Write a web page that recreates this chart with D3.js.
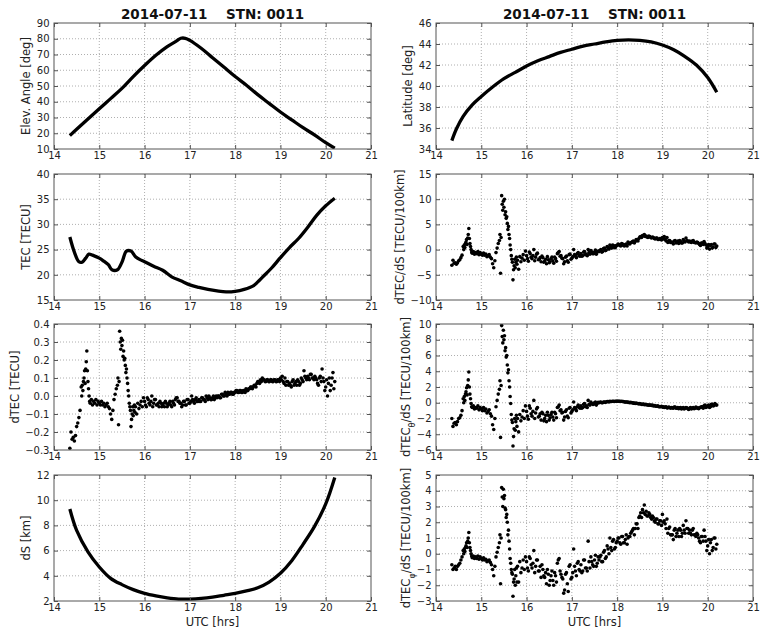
<!DOCTYPE html>
<html>
<head>
<meta charset="utf-8">
<script src="https://cdn.jsdelivr.net/npm/d3@7"></script>
<style>
  body { margin: 0; background: #fff; }
  svg { display: block; font-family: "DejaVu Sans", sans-serif; }
  .tick-label { font-size: 10px; fill: #222; }
  .axis-label { font-size: 11.5px; fill: #222; }
  .title { font-size: 13.5px; font-weight: bold; fill: #111; }
</style>
</head>
<body>
<svg id="chart" width="764" height="633"></svg>
<script>
// Header
const titleText = '2014-07-11    STN: 0011';
const xTicks = [14, 15, 16, 17, 18, 19, 20, 21];

// Smooth curves (UTC hours -> value)
const elevTimes = [14.35, 14.5, 14.75, 15, 15.25, 15.5, 15.75, 16, 16.25, 16.5, 16.7, 16.8, 16.9, 17, 17.25, 17.5, 17.75, 18, 18.25, 18.5, 18.75, 19, 19.25, 19.5, 19.75, 20, 20.2];
const elevValues = [18.5, 22.5, 29, 35.5, 42, 48.5, 56, 63, 69.5, 75, 78.5, 80.3, 80.3, 79, 74, 68, 62, 56, 50.5, 44.5, 39, 33.5, 28.5, 23.5, 19, 14, 10.5];

const latTimes = [14.35, 14.45, 14.6, 14.8, 15, 15.25, 15.5, 15.75, 16, 16.25, 16.5, 16.75, 17, 17.25, 17.5, 17.75, 18, 18.25, 18.5, 18.75, 19, 19.25, 19.5, 19.75, 20, 20.2];
const latValues = [34.8, 35.9, 37.1, 38.2, 39.0, 39.9, 40.7, 41.3, 41.9, 42.4, 42.8, 43.2, 43.5, 43.8, 44.0, 44.2, 44.35, 44.4, 44.35, 44.2, 43.9, 43.45, 42.8, 42.0, 40.8, 39.4];

const tecTimes = [14.35, 14.45, 14.55, 14.62, 14.7, 14.77, 14.85, 15, 15.1, 15.2, 15.28, 15.4, 15.5, 15.6, 15.7, 15.8, 15.9, 16, 16.2, 16.4, 16.6, 16.8, 17, 17.2, 17.4, 17.6, 17.8, 18, 18.2, 18.4, 18.5, 18.6, 18.8, 19, 19.2, 19.4, 19.6, 19.8, 20, 20.2];
const tecValues = [27.5, 24.5, 22.6, 22.5, 23.3, 24.1, 23.9, 23.3, 22.7, 22.0, 21.0, 21.0, 22.5, 24.7, 24.7, 23.6, 23.0, 22.6, 21.7, 20.9, 19.6, 18.8, 18.0, 17.5, 17.1, 16.8, 16.6, 16.7, 17.1, 17.8, 18.6, 19.5, 21.3, 23.4, 25.4, 27.2, 29.4, 31.8, 33.7, 35.2];

const dsTimes = [14.35, 14.5, 14.75, 15, 15.25, 15.5, 15.75, 16, 16.25, 16.5, 16.75, 17, 17.25, 17.5, 17.75, 18, 18.25, 18.5, 18.75, 19, 19.25, 19.5, 19.75, 20, 20.2];
const dsValues = [9.3, 7.6, 5.9, 4.7, 3.8, 3.3, 2.9, 2.6, 2.4, 2.25, 2.15, 2.15, 2.2, 2.3, 2.45, 2.6, 2.8, 3.05, 3.5, 4.2, 5.2, 6.5, 7.9, 9.7, 11.8];

// Scatter samples (shared epochs): first pass, then the in-between epochs after 16 h
const scatterTimes = [
  14.35, 14.375, 14.4, 14.425, 14.45, 14.475, 14.5, 14.525, 14.55, 14.575,
  14.6, 14.6125, 14.625, 14.6375, 14.65, 14.6625, 14.675, 14.6875, 14.7, 14.7125, 14.725, 14.7375, 14.75, 14.7625, 14.775, 14.7875,
  14.8, 14.825, 14.85, 14.875, 14.9, 14.925, 14.95, 14.975, 15, 15.025, 15.05, 15.075,
  15.1, 15.125, 15.15, 15.175, 15.2, 15.225, 15.25, 15.275, 15.3, 15.325, 15.35, 15.375,
  15.4, 15.4125, 15.425, 15.4375, 15.45, 15.4625, 15.475, 15.4875, 15.5, 15.5125, 15.525, 15.5375, 15.55, 15.5625, 15.575, 15.5875,
  15.6, 15.6125, 15.625, 15.6375, 15.65, 15.6625, 15.675, 15.6875, 15.7, 15.7125, 15.725, 15.7375, 15.75, 15.7625, 15.775, 15.7875,
  15.8, 15.825, 15.85, 15.875, 15.9, 15.925, 15.95, 15.975,
  16.00, 16.04, 16.08, 16.12, 16.16, 16.20, 16.24, 16.28, 16.32, 16.36,
  16.40, 16.44, 16.48, 16.52, 16.56, 16.60, 16.64, 16.68, 16.72, 16.76,
  16.80, 16.84, 16.88, 16.92, 16.96, 17.00, 17.04, 17.08, 17.12, 17.16,
  17.20, 17.24, 17.28, 17.32, 17.36, 17.40, 17.44, 17.48, 17.52, 17.56,
  17.60, 17.64, 17.68, 17.72, 17.76, 17.80, 17.84, 17.88, 17.92, 17.96,
  18.00, 18.04, 18.08, 18.12, 18.16, 18.20, 18.24, 18.28, 18.32, 18.36,
  18.40, 18.44, 18.48, 18.52, 18.56, 18.60, 18.64, 18.68, 18.72, 18.76,
  18.80, 18.84, 18.88, 18.92, 18.96, 19.00, 19.04, 19.08, 19.12, 19.16,
  19.20, 19.24, 19.28, 19.32, 19.36, 19.40, 19.44, 19.48, 19.52, 19.56,
  19.60, 19.64, 19.68, 19.72, 19.76, 19.80, 19.84, 19.88, 19.92, 19.96,
  20.00, 20.04, 20.08, 20.12, 20.16, 20.20,
  16.02, 16.06, 16.10, 16.14, 16.18, 16.22, 16.26, 16.30, 16.34, 16.38,
  16.42, 16.46, 16.50, 16.54, 16.58, 16.62, 16.66, 16.70, 16.74, 16.78,
  16.82, 16.86, 16.90, 16.94, 16.98, 17.02, 17.06, 17.10, 17.14, 17.18,
  17.22, 17.26, 17.30, 17.34, 17.38, 17.42, 17.46, 17.50, 17.54, 17.58,
  17.62, 17.66, 17.70, 17.74, 17.78, 17.82, 17.86, 17.90, 17.94, 17.98,
  18.02, 18.06, 18.10, 18.14, 18.18, 18.22, 18.26, 18.30, 18.34, 18.38,
  18.42, 18.46, 18.50, 18.54, 18.58, 18.62, 18.66, 18.70, 18.74, 18.78,
  18.82, 18.86, 18.90, 18.94, 18.98, 19.02, 19.06, 19.10, 19.14, 19.18,
  19.22, 19.26, 19.30, 19.34, 19.38, 19.42, 19.46, 19.50, 19.54, 19.58,
  19.62, 19.66, 19.70, 19.74, 19.78, 19.82, 19.86, 19.90, 19.94, 19.98,
  20.02, 20.06, 20.10, 20.14, 20.18
];

const dtecValues = [
  -0.29, -0.20, -0.24, -0.23, -0.25, -0.22, -0.17, -0.15, -0.12, -0.08,
  0.05, 0.0, 0.06, 0.03, 0.08, 0.1, 0.14, 0.07, 0.15, 0.19, 0.25, 0.14, 0.08, 0.04, 0.0, -0.03,
  -0.04, -0.02, -0.05, -0.03, -0.04, -0.02, -0.05, -0.03, -0.04, -0.05, -0.03, -0.05,
  -0.04, -0.06, -0.05, -0.04, -0.06, -0.07, -0.10, -0.13, -0.08, -0.02, 0.01, 0.04,
  0.06, 0.1, -0.16, 0.08, 0.36, 0.3, 0.26, 0.32, 0.28, 0.31, 0.22, 0.25, 0.2, 0.21, 0.17, 0.13,
  0.15, 0.1, 0.07, 0.03, 0.0, -0.04, -0.06, -0.08, -0.17, -0.13, -0.1, -0.06, -0.11, -0.08, -0.05, -0.09,
  -0.06, -0.1, -0.04, -0.07, -0.05, -0.03, -0.06, -0.01,
  -0.03, -0.06, -0.02, -0.05, 0.0, -0.04, -0.02, -0.05, -0.06, -0.04,
  -0.05, -0.06, -0.04, -0.05, -0.03, -0.06, -0.04, -0.02, -0.01, -0.03,
  -0.04, -0.05, -0.03, -0.05, -0.02, -0.04, 0.0, -0.03, -0.02, -0.03,
  -0.02, -0.03, -0.01, -0.02, 0.0, -0.02, -0.01, -0.02, 0.0, -0.01,
  -0.01, 0.0, -0.01, 0.01, 0.0, 0.01, 0.02, 0.01, 0.02, 0.01,
  0.02, 0.03, 0.02, 0.03, 0.02, 0.03, 0.04, 0.03, 0.04, 0.05,
  0.05, 0.06, 0.07, 0.08, 0.09, 0.1, 0.09, 0.08, 0.09, 0.08,
  0.09, 0.08, 0.09, 0.08, 0.09, 0.1, 0.11, 0.07, 0.06, 0.08,
  0.07, 0.05, 0.09, 0.07, 0.06, 0.08, 0.07, 0.09, 0.14, 0.1,
  0.11, 0.09, 0.12, 0.1, 0.11, 0.09, 0.06, 0.11, 0.15, 0.08,
  0.05, 0.0, 0.1, 0.06, 0.13, 0.08,
  -0.05, -0.01, -0.04, -0.03, -0.06, -0.02, -0.05, -0.04, -0.03, -0.06,
  -0.04, -0.03, -0.06, -0.04, -0.05, -0.03, -0.05, -0.01, -0.03, -0.04,
  -0.06, -0.03, -0.05, -0.02, -0.04, -0.03, -0.02, -0.04, -0.01, -0.03,
  -0.03, -0.01, -0.02, -0.03, -0.01, 0.0, -0.02, -0.01, -0.02, 0.0,
  0.0, -0.01, 0.01, 0.0, 0.02, 0.0, 0.01, 0.02, 0.01, 0.02,
  0.03, 0.02, 0.03, 0.02, 0.03, 0.02, 0.03, 0.04, 0.05, 0.04,
  0.06, 0.05, 0.08, 0.07, 0.08, 0.09, 0.08, 0.09, 0.08, 0.09,
  0.08, 0.09, 0.08, 0.09, 0.08, 0.09, 0.08, 0.1, 0.08, 0.06,
  0.06, 0.08, 0.06, 0.08, 0.09, 0.06, 0.1, 0.08, 0.11, 0.09,
  0.1, 0.12, 0.1, 0.09, 0.1, 0.07, 0.1, 0.08, 0.1, 0.03,
  0.09, 0.07, 0.03, 0.1, 0.04
];

const gradValues = [
  -3.1, -2.1, -2.7, -2.6, -2.9, -2.6, -2.2, -2.0, -1.6, -1.1,
  0.6, 0.0, 0.9, 0.4, 1.2, 1.5, 2.0, 1.0, 2.3, 3.0, 4.2, 2.2, 1.2, 0.6, 0.0, -0.5,
  -0.7, -0.4, -0.9, -0.6, -0.8, -0.4, -1.0, -0.6, -0.9, -1.1, -0.7, -1.1,
  -0.9, -1.4, -1.2, -1.0, -1.5, -1.8, -2.8, -3.6, -2.2, -0.6, 0.3, 1.2,
  1.8, 3.0, -4.7, 2.4, 10.7, 9.0, 7.8, 9.6, 8.4, 10.0, 6.9, 7.5, 6.2, 6.5, 5.2, 4.0,
  4.6, 3.0, 2.2, 0.9, 0.0, -1.2, -1.9, -2.5, -6.0, -4.0, -3.2, -1.9, -3.6, -2.5, -1.5, -2.9,
  -2.1, -3.9, -1.4, -2.4, -1.7, -1.0, -2.1, -0.3,
  -1.2, -2.3, -0.8, -1.8, 0.0, -1.5, -0.7, -1.9, -2.4, -1.6,
  -2.3, -2.8, -2.0, -2.4, -1.5, -2.7, -1.8, -0.8, -0.4, -1.2,
  -1.8, -2.4, -1.3, -2.5, -0.9, -1.7, 0.0, -1.3, -0.8, -1.2,
  -0.8, -1.2, -0.4, -0.9, 0.0, -0.9, -0.5, -0.8, -0.1, -0.5,
  -0.4, 0.0, -0.4, 0.3, -0.1, 0.4, 0.9, 0.3, 0.8, 0.4,
  0.8, 1.0, 0.7, 1.1, 0.7, 1.1, 1.5, 1.1, 1.4, 1.7,
  1.6, 1.9, 2.2, 2.6, 2.8, 3.0, 2.7, 2.4, 2.6, 2.3,
  2.4, 2.1, 2.3, 2.0, 2.2, 2.4, 2.6, 1.7, 1.4, 1.8,
  1.5, 1.1, 1.8, 1.4, 1.2, 1.6, 1.3, 1.6, 2.3, 1.7,
  1.7, 1.4, 1.8, 1.4, 1.5, 1.2, 0.8, 1.3, 1.6, 0.9,
  0.6, 0.1, 1.0, 0.5, 1.1, 0.7,
  -1.8, -0.5, -1.5, -1.2, -2.2, -0.9, -2.0, -1.6, -1.3, -2.5,
  -1.9, -1.4, -2.6, -1.8, -2.2, -1.5, -2.3, -0.6, -1.3, -1.7,
  -2.8, -1.5, -2.2, -1.0, -1.9, -1.4, -1.0, -1.6, -0.6, -1.3,
  -1.3, -0.5, -1.0, -1.2, -0.6, -0.2, -0.8, -0.5, -0.9, -0.3,
  -0.2, -0.5, 0.2, -0.2, 0.6, 0.1, 0.5, 0.9, 0.4, 0.8,
  1.1, 0.8, 1.2, 0.8, 1.0, 0.7, 1.2, 1.4, 1.6, 1.3,
  2.0, 1.7, 2.5, 2.4, 2.7, 2.6, 2.5, 2.7, 2.4, 2.5,
  2.2, 2.3, 2.0, 2.2, 1.9, 2.1, 2.0, 2.4, 1.8, 1.4,
  1.4, 1.7, 1.3, 1.7, 1.8, 1.3, 2.0, 1.5, 1.8, 1.5,
  1.5, 1.7, 1.4, 1.3, 1.4, 1.0, 1.3, 1.0, 1.2, 0.3,
  1.0, 0.8, 0.3, 1.1, 0.4
];

const gradThetaValues = [
  -2.0, -3.0, -2.6, -2.5, -2.8, -2.4, -2.0, -1.9, -1.6, -1.0,
  0.5, 0.0, 0.8, 0.3, 1.1, 1.4, 1.9, 1.0, 2.2, 2.9, 3.9, 2.0, 1.1, 0.5, -0.1, -0.5,
  -0.6, -0.4, -0.8, -0.6, -0.7, -0.4, -0.9, -0.6, -0.8, -1.0, -0.6, -1.0,
  -0.8, -1.3, -1.1, -0.9, -1.4, -1.7, -2.8, -3.4, -2.0, -0.5, 0.3, 1.1,
  1.7, 2.8, -4.4, 2.2, 9.8, 8.4, 7.6, 9.2, 8.0, 8.5, 6.6, 7.0, 5.8, 6.0, 4.8, 3.8,
  4.2, 2.8, 2.0, 0.8, -0.1, -1.5, -2.2, -2.5, -5.5, -4.3, -3.3, -2.0, -3.5, -2.4, -1.6, -3.0,
  -2.0, -3.7, -1.5, -2.3, -1.8, -1.0, -2.0, -0.4,
  -1.1, -2.1, -0.7, -1.7, 0.3, -1.3, -0.6, -1.7, -2.2, -1.4,
  -2.0, -2.4, -1.6, -1.9, -1.2, -2.2, -1.4, -0.6, -0.3, -0.9,
  -1.2, -1.8, -0.9, -1.9, -0.6, -1.1, 0.1, -0.8, -0.5, -0.6,
  -0.4, -0.6, -0.1, -0.4, 0.3, -0.3, -0.1, -0.2, 0.1, -0.1,
  0.0, 0.1, 0.0, 0.1, 0.1, 0.15, 0.2, 0.15, 0.2, 0.2,
  0.2, 0.2, 0.15, 0.15, 0.1, 0.1, 0.05, 0.0, 0.0, -0.05,
  -0.1, -0.1, -0.15, -0.15, -0.2, -0.25, -0.25, -0.3, -0.3, -0.35,
  -0.4, -0.4, -0.45, -0.5, -0.5, -0.55, -0.6, -0.5, -0.65, -0.6,
  -0.6, -0.7, -0.55, -0.7, -0.75, -0.6, -0.7, -0.8, -0.6, -0.75,
  -0.7, -0.8, -0.6, -0.7, -0.65, -0.75, -0.6, -0.5, -0.4, -0.6,
  -0.4, -0.6, -0.2, -0.4, -0.1, -0.3,
  -1.7, -0.4, -1.4, -1.1, -2.0, -0.8, -1.8, -1.4, -1.2, -2.3,
  -1.6, -1.2, -2.2, -1.5, -1.8, -1.2, -1.9, -0.5, -1.0, -1.3,
  -2.2, -1.1, -1.7, -0.7, -1.3, -0.9, -0.6, -1.0, -0.3, -0.7,
  -0.7, -0.2, -0.5, -0.6, -0.2, 0.1, -0.2, 0.0, -0.3, 0.05,
  0.05, 0.0, 0.1, 0.05, 0.15, 0.1, 0.15, 0.2, 0.15, 0.2,
  0.2, 0.2, 0.2, 0.15, 0.1, 0.1, 0.05, 0.05, 0.0, -0.05,
  -0.05, -0.1, -0.1, -0.2, -0.15, -0.2, -0.25, -0.3, -0.3, -0.3,
  -0.35, -0.45, -0.4, -0.5, -0.45, -0.5, -0.55, -0.65, -0.55, -0.7,
  -0.65, -0.55, -0.7, -0.6, -0.65, -0.8, -0.6, -0.7, -0.65, -0.85,
  -0.6, -0.7, -0.75, -0.55, -0.7, -0.6, -0.5, -0.7, -0.3, -0.5,
  -0.3, -0.5, -0.2, -0.35, -0.25
];

const gradPhiValues = [
  -0.7, -1.0, -0.9, -0.8, -1.0, -0.8, -0.7, -0.6, -0.4, -0.2,
  0.2, 0.0, 0.3, 0.15, 0.4, 0.5, 0.7, 0.4, 0.8, 1.0, 1.35, 0.7, 0.4, 0.2, 0.0, -0.15,
  -0.25, -0.15, -0.3, -0.2, -0.3, -0.15, -0.35, -0.2, -0.3, -0.4, -0.25, -0.4,
  -0.35, -0.5, -0.45, -0.4, -0.55, -0.7, -1.0, -1.4, -0.8, -0.2, 0.1, 0.4,
  0.7, 1.2, -1.9, 1.0, 4.2, 3.6, 3.0, 4.1, 3.5, 3.7, 2.9, 2.8, 2.3, 2.5, 2.0, 1.2,
  1.5, 0.8, 0.3, -0.3, -0.6, -1.0, -1.2, -1.3, -2.7, -1.8, -1.6, -1.0, -2.0, -1.4, -0.9, -1.8,
  -0.8, -1.8, -0.5, -1.2, -0.9, -0.4, -1.0, -0.2,
  -0.5, -1.1, -0.3, -0.9, 0.2, -0.8, -0.4, -1.1, -1.5, -1.0,
  -1.5, -1.9, -1.3, -1.7, -1.1, -2.0, -1.4, -0.6, -0.3, -1.3,
  -1.6, -2.3, -1.2, -2.4, -0.7, -1.5, 0.3, -1.1, -0.6, -1.0,
  -0.7, -1.1, -0.4, -0.9, 0.8, -0.9, -0.5, -0.8, -0.1, -0.6,
  -0.4, -0.1, -0.5, 0.2, -0.2, 0.3, 1.0, 0.2, 0.9, 0.4,
  0.8, 1.0, 0.6, 1.1, 0.7, 1.2, 1.0, 1.1, 1.4, 1.6,
  1.6, 1.9, 2.3, 2.6, 2.8, 3.1, 2.7, 2.4, 2.5, 2.2,
  2.3, 2.0, 2.2, 1.9, 2.1, 2.5, 2.1, 1.6, 1.3, 1.7,
  1.2, 0.9, 1.6, 1.3, 1.1, 1.5, 1.3, 1.5, 2.1, 1.6,
  1.5, 1.2, 1.6, 1.2, 1.3, 1.0, 0.7, 1.1, 1.5, 0.8,
  0.5, 0.0, 0.9, 0.4, 1.0, 0.6,
  -0.9, -0.2, -0.7, -0.6, -1.2, -0.4, -1.1, -0.8, -0.7, -1.4,
  -1.2, -1.0, -2.0, -1.4, -1.7, -1.2, -1.8, -0.4, -1.1, -1.5,
  -2.5, -1.3, -1.9, -0.8, -1.6, -1.2, -0.8, -1.4, -0.5, -1.1,
  -1.2, -0.4, -0.9, -1.1, -0.5, -0.2, -0.7, -0.4, -0.8, -0.2,
  -0.2, -0.5, 0.1, -0.3, 0.5, 0.0, 0.4, 0.8, 0.3, 0.7,
  1.0, 0.7, 1.1, 0.7, 0.9, 0.6, 1.1, 1.3, 1.5, 1.2,
  1.9, 1.6, 2.4, 2.3, 2.6, 2.5, 2.4, 2.6, 2.3, 2.4,
  2.1, 2.2, 1.9, 2.1, 1.8, 2.0, 1.9, 2.2, 1.6, 1.2,
  1.2, 1.5, 1.1, 1.5, 1.6, 1.1, 1.8, 1.3, 1.6, 1.3,
  1.3, 1.5, 1.2, 1.1, 1.2, 0.8, 1.1, 0.8, 1.1, 0.2,
  0.9, 0.7, 0.2, 1.0, 0.3
];

// Y tick labels per panel
const elevTicks = [10, 20, 30, 40, 50, 60, 70, 80, 90];
const latTicks = [34, 36, 38, 40, 42, 44, 46];
const tecTicks = [15, 20, 25, 30, 35, 40];
const gradTicks = [-10, -5, 0, 5, 10, 15];
const dtecTicks = [-0.3, -0.2, -0.1, 0.0, 0.1, 0.2, 0.3, 0.4];
const gradThetaTicks = [-6, -4, -2, 0, 2, 4, 6, 8, 10];
const dsTicks = [2, 4, 6, 8, 10, 12];
const gradPhiTicks = [-3, -2, -1, 0, 1, 2, 3, 4, 5];

const colLeft = [54, 436];
const rowTop = [23, 174, 324, 475];
const plotW = 317, plotH = 126;
const yPad = 4.5;

const panels = [
  { col: 0, row: 0, type: 'line', t: elevTimes, v: elevValues, ticks: elevTicks, label: ['Elev. Angle [deg]'], title: true },
  { col: 1, row: 0, type: 'line', t: latTimes, v: latValues, ticks: latTicks, label: ['Latitude [deg]'], title: true },
  { col: 0, row: 1, type: 'line', t: tecTimes, v: tecValues, ticks: tecTicks, label: ['TEC [TECU]'] },
  { col: 1, row: 1, type: 'dots', t: scatterTimes, v: gradValues, ticks: gradTicks, label: ['dTEC/dS [TECU/100km]'] },
  { col: 0, row: 2, type: 'dots', t: scatterTimes, v: dtecValues, ticks: dtecTicks, label: ['dTEC [TECU]'], fmt: d3.format('.1f') },
  { col: 1, row: 2, type: 'dots', t: scatterTimes, v: gradThetaValues, ticks: gradThetaTicks, label: ['dTEC', 'θ', '/dS [TECU/100km]'] },
  { col: 0, row: 3, type: 'line', t: dsTimes, v: dsValues, ticks: dsTicks, label: ['dS [km]'], xlabel: true },
  { col: 1, row: 3, type: 'dots', t: scatterTimes, v: gradPhiValues, ticks: gradPhiTicks, label: ['dTEC', 'φ', '/dS [TECU/100km]'], xlabel: true }
];

const svg = d3.select('#chart');

panels.forEach((p, i) => {
  const x0 = colLeft[p.col], y0 = rowTop[p.row];
  const x = d3.scaleLinear().domain([14, 21]).range([0, plotW]);
  const y = d3.scaleLinear().domain(d3.extent(p.ticks)).range([plotH, 0]);
  const fmt = p.fmt || d3.format('d');

  const g = svg.append('g').attr('transform', `translate(${x0},${y0})`);

  g.append('clipPath').attr('id', 'clip' + i)
    .append('rect').attr('width', plotW).attr('height', plotH);

  // Dotted grid
  const grid = g.append('g').attr('stroke', '#9a9a9a').attr('stroke-width', 0.8)
    .attr('stroke-dasharray', '1,2');
  grid.selectAll('.gx').data(xTicks.slice(1, -1)).enter().append('line')
    .attr('x1', d => x(d)).attr('x2', d => x(d)).attr('y1', 0).attr('y2', plotH);
  grid.selectAll('.gy').data(p.ticks.slice(1, -1)).enter().append('line')
    .attr('y1', d => y(d)).attr('y2', d => y(d)).attr('x1', 0).attr('x2', plotW);

  const body = g.append('g').attr('clip-path', `url(#clip${i})`);
  const pts = p.t.map((t, k) => [t, p.v[k]]);

  if (p.type === 'line') {
    body.append('path')
      .datum(pts)
      .attr('fill', 'none')
      .attr('stroke', '#000')
      .attr('stroke-width', 3.3)
      .attr('stroke-linejoin', 'round')
      .attr('d', d3.line().x(d => x(d[0])).y(d => y(d[1])).curve(d3.curveCatmullRom));
  } else {
    body.selectAll('circle').data(pts).enter().append('circle')
      .attr('cx', d => x(d[0])).attr('cy', d => y(d[1]))
      .attr('r', 1.8).attr('fill', '#000');
  }

  // Axes (ticks inward, on all four sides)
  const bottom = d3.axisBottom(x).tickValues(xTicks).tickSize(-4).tickPadding(2.5).tickFormat(d3.format('d'));
  const top = d3.axisTop(x).tickValues(xTicks).tickSize(-4).tickFormat('');
  const left = d3.axisLeft(y).tickValues(p.ticks).tickSize(-4).tickPadding(yPad).tickFormat(fmt);
  const right = d3.axisRight(y).tickValues(p.ticks).tickSize(-4).tickFormat('');

  let leftAxis;
  [[bottom, `translate(0,${plotH})`], [top, null], [left, null], [right, `translate(${plotW},0)`]]
    .forEach(([ax, tr]) => {
      const a = g.append('g').call(ax);
      if (tr) a.attr('transform', tr);
      a.attr('font-size', null).attr('font-family', null);
      a.select('.domain').remove();
      a.selectAll('line').attr('stroke', '#555');
      a.selectAll('text').attr('class', 'tick-label');
      if (ax === left) leftAxis = a;
    });

  g.append('rect').attr('width', plotW).attr('height', plotH)
    .attr('fill', 'none').attr('stroke', '#555').attr('stroke-width', 1);

  // Y label placed just left of the widest tick label
  let maxW = 0;
  leftAxis.selectAll('text').each(function () { maxW = Math.max(maxW, this.getBBox().width); });
  const yl = g.append('text').attr('class', 'axis-label')
    .attr('transform', `translate(${-(maxW + yPad + 6.5)},${plotH / 2}) rotate(-90)`)
    .attr('text-anchor', 'middle');
  yl.append('tspan').text(p.label[0]);
  if (p.label.length > 1) {
    yl.append('tspan').attr('baseline-shift', 'sub').attr('font-size', 8).text(p.label[1]);
    yl.append('tspan').text(p.label[2]);
  }

  if (p.title) {
    g.append('text').attr('class', 'title')
      .attr('x', plotW / 2).attr('y', -4)
      .attr('text-anchor', 'middle')
      .style('white-space', 'pre')
      .attr('xml:space', 'preserve')
      .text(titleText);
  }
  if (p.xlabel) {
    g.append('text').attr('class', 'axis-label')
      .attr('x', plotW / 2).attr('y', plotH + 25)
      .attr('text-anchor', 'middle')
      .text('UTC [hrs]');
  }
});
</script>
</body>
</html>
